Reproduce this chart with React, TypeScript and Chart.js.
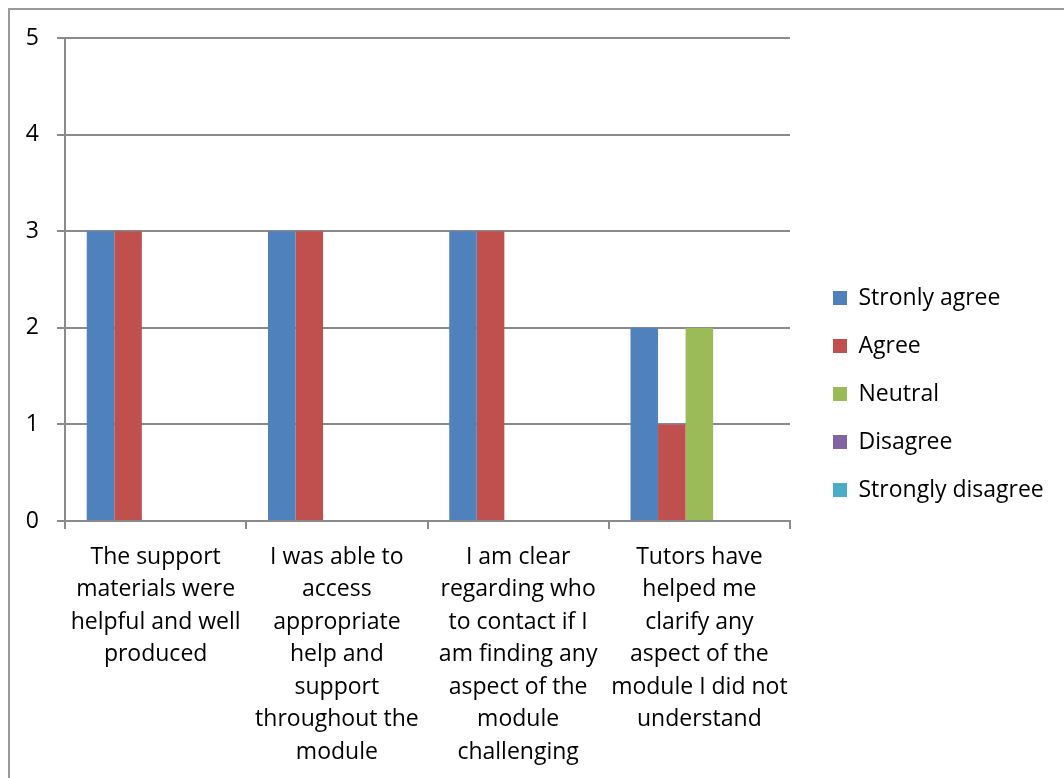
import React, { useEffect, useRef } from "react";
import { Chart, registerables } from "chart.js";

Chart.register(...registerables);

const categories: string[][] = [
  ["The support", "materials were", "helpful and well", "produced"],
  ["I was able to", "access", "appropriate", "help and", "support", "throughout the", "module"],
  ["I am clear", "regarding who", "to contact if I", "am finding any", "aspect of the", "module", "challenging"],
  ["Tutors have", "helped me", "clarify any", "aspect of the", "module I did not", "understand"],
];

const seriesNames = ["Stronly agree", "Agree", "Neutral", "Disagree", "Strongly disagree"];
const stronglyAgree = [3, 3, 3, 2];
const agree = [3, 3, 3, 1];
const neutral = [0, 0, 0, 2];
const disagree = [0, 0, 0, 0];
const stronglyDisagree = [0, 0, 0, 0];
const seriesColors = ["#4F81BD", "#C0504D", "#9BBB59", "#8064A2", "#4BACC6"];
const yTicks = [0, 1, 2, 3, 4, 5];

const FONT = "'Open Sans', Lato, sans-serif";
const FS = 23;
const GRID = "#8a8a8a";
const CANVAS_W = 1054;
const CANVAS_H = 768;
const PLOT_RIGHT = 780;
const PLOT_TOP = 28;
const LEGEND_GAP = 18;

const layoutFixer = {
  id: "layoutFixer",
  beforeLayout(chart: any) {
    const lg = chart.legend;
    if (lg && !lg.__patched) {
      const orig = lg.fit.bind(lg);
      lg.fit = function () {
        orig();
        this.width = CANVAS_W - PLOT_RIGHT;
      };
      lg.__patched = true;
    }
  },
  afterLayout(chart: any) {
    const lg = chart.legend;
    if (lg) {
      lg.left = chart.chartArea.right + LEGEND_GAP;
      lg.right = lg.left + lg.width;
    }
  },
};

export default function App() {
  const ref = useRef<HTMLCanvasElement | null>(null);
  useEffect(() => {
    if (!ref.current) return;
    const values = [stronglyAgree, agree, neutral, disagree, stronglyDisagree];
    const chart = new Chart(ref.current, {
      type: "bar",
      data: {
        labels: categories,
        datasets: seriesNames.map((name, i) => ({
          label: name,
          data: values[i],
          backgroundColor: seriesColors[i],
          borderWidth: 0,
          categoryPercentage: 0.76,
          barPercentage: 1,
        })),
      },
      options: {
        animation: false,
        responsive: false,
        maintainAspectRatio: false,
        layout: { padding: 0 },
        plugins: {
          tooltip: { enabled: false },
          legend: {
            position: "right",
            align: "center",
            labels: {
              boxWidth: 14,
              boxHeight: 14,
              padding: 25,
              color: "#000",
              font: { family: FONT, size: FS },
            },
          },
        },
        scales: {
          x: {
            grid: {
              display: true,
              drawOnChartArea: false,
              drawTicks: true,
              tickLength: 8,
              color: GRID,
              lineWidth: 2,
              offset: true,
            },
            border: { display: true, color: GRID, width: 2 },
            ticks: {
              color: "#000",
              font: { family: FONT, size: FS, lineHeight: 1.413 },
              maxRotation: 0,
              minRotation: 0,
              autoSkip: false,
              padding: 12,
            },
            afterFit: (s: any) => {
              s.height = 257;
            },
          },
          y: {
            min: 0,
            max: 5,
            grid: { color: GRID, lineWidth: 2, tickLength: 8, drawTicks: true },
            border: { display: true, color: GRID, width: 2 },
            ticks: {
              stepSize: 1,
              color: "#000",
              padding: 18,
              font: { family: FONT, size: FS },
              callback: (v: any) => (yTicks.includes(Number(v)) ? String(v) : ""),
            },
            afterFit: (s: any) => {
              s.width = 55;
              s.paddingTop = 10;
              s.paddingBottom = 10;
            },
          },
          topGap: {
            type: "linear",
            position: "top",
            display: true,
            grid: { display: false, drawTicks: false },
            border: { display: false },
            ticks: { display: false },
            afterFit: (s: any) => {
              s.height = PLOT_TOP;
            },
          },
        },
      } as any,
      plugins: [layoutFixer],
    });
    return () => chart.destroy();
  }, []);

  return (
    <div style={{ position: "fixed", left: 0, top: 0, width: 1064, height: 778, overflow: "hidden", background: "#fff" }}>
      <div
        style={{
          position: "absolute",
          left: 8,
          top: 8,
          width: 1200,
          height: 900,
          border: "2px solid #9a9a9a",
        }}
      >
        <canvas
          ref={ref}
          width={CANVAS_W}
          height={CANVAS_H}
          style={{ display: "block", width: CANVAS_W, height: CANVAS_H }}
        />
      </div>
    </div>
  );
}
